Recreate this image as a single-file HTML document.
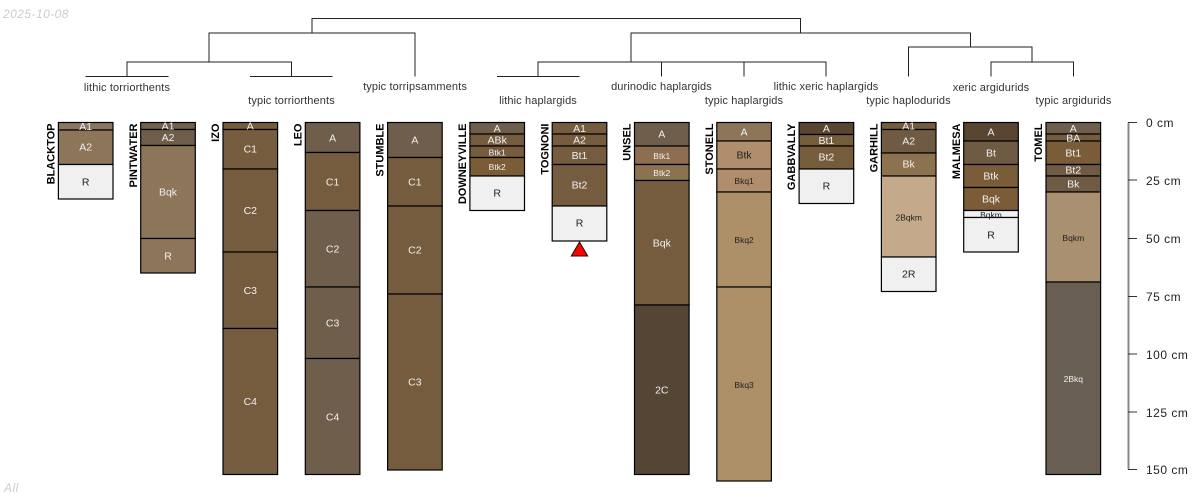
<!DOCTYPE html>
<html><head><meta charset="utf-8"><style>
html,body{margin:0;padding:0;background:#fff}
svg{display:block;font-family:"Liberation Sans",Arial,sans-serif}
.p rect{width:54.6px;stroke:#000;stroke-width:1.2}
.p text{text-anchor:middle;dominant-baseline:central;font-size:10.5px;fill:#f0f0f0;transform:translateY(.5px)}
.p text.s{font-size:8.5px}
.p text.d{fill:#222}
.n{font-weight:bold;font-size:11px;fill:#000;text-anchor:end}
.t{font-size:11px;letter-spacing:.12px;fill:#333;text-anchor:middle}
.a{font-size:12px;letter-spacing:.5px;fill:#222}
.den path{fill:none;stroke:#222;stroke-width:1}
</style></head><body>
<svg width="1200" height="500" viewBox="0 0 1200 500" xmlns="http://www.w3.org/2000/svg">
<text x="3" y="18" font-size="12" letter-spacing=".45" font-style="italic" fill="#ccc">2025-10-08</text>
<text x="4" y="492" font-size="12" letter-spacing=".5" font-style="italic" fill="#ccc">All</text>
<g class="den"><path d="M312 33V18.5H800.5V33M209 62V33H415V76.5M631 62V33H970.5V47M908.5 76.5V47H1032V62M991 76.5V62H1073.5V76.5M127 76.5V62H291.5V76.5M85.5 76.5H168.5M250 76.5H332.5M538 76.5V62H826V76.5M661.5 62V76.5M744 62V76.5M497 76.5H579.5"/></g>
<text class="t" x="127" y="91">lithic torriorthents</text>
<text class="t" x="291.5" y="104">typic torriorthents</text>
<text class="t" x="415" y="90">typic torripsamments</text>
<text class="t" x="538" y="104">lithic haplargids</text>
<text class="t" x="661.5" y="90">durinodic haplargids</text>
<text class="t" x="744" y="104">typic haplargids</text>
<text class="t" x="826" y="90">lithic xeric haplargids</text>
<text class="t" x="908.5" y="104">typic haplodurids</text>
<text class="t" x="991" y="91">xeric argidurids</text>
<text class="t" x="1073.5" y="104">typic argidurids</text>

<text class="n" transform="translate(54.5,123.5) rotate(-90)">BLACKTOP</text>
<text class="n" transform="translate(136.8,123.5) rotate(-90)">PINTWATER</text>
<text class="n" transform="translate(219.1,123.5) rotate(-90)">IZO</text>
<text class="n" transform="translate(301.4,123.5) rotate(-90)">LEO</text>
<text class="n" transform="translate(383.7,123.5) rotate(-90)">STUMBLE</text>
<text class="n" transform="translate(466,123.5) rotate(-90)">DOWNEYVILLE</text>
<text class="n" transform="translate(548.3,123.5) rotate(-90)">TOGNONI</text>
<text class="n" transform="translate(630.6,123.5) rotate(-90)">UNSEL</text>
<text class="n" transform="translate(712.9,123.5) rotate(-90)">STONELL</text>
<text class="n" transform="translate(795.2,123.5) rotate(-90)">GABBVALLY</text>
<text class="n" transform="translate(877.5,123.5) rotate(-90)">GARHILL</text>
<text class="n" transform="translate(959.8,123.5) rotate(-90)">MALMESA</text>
<text class="n" transform="translate(1042.1,123.5) rotate(-90)">TOMEL</text>

<g class="p" transform="translate(58.4,0)">
<rect y="122.5" height="7.5" fill="#8b7660"/><rect y="130" height="34.5" fill="#8d755a"/><rect y="164.5" height="34.5" fill="#f0f0f0"/>
<text x="27.3" y="126.3">A1</text><text x="27.3" y="147.2">A2</text><text class="d" x="27.3" y="182">R</text></g>

<g class="p" transform="translate(140.7,0)">
<rect y="122.5" height="7" fill="#70604d"/><rect y="129.5" height="16" fill="#6e5d4a"/><rect y="145.5" height="93" fill="#8d755a"/><rect y="238.5" height="34.5" fill="#8d755a"/>
<text x="27.3" y="126">A1</text><text x="27.3" y="137.5">A2</text><text x="27.3" y="192">Bqk</text><text x="27.3" y="256">R</text></g>

<g class="p" transform="translate(223,0)">
<rect y="122.5" height="7" fill="#755c3f"/><rect y="129.5" height="39.5" fill="#755c3f"/><rect y="169" height="83" fill="#755c3f"/><rect y="252" height="76.5" fill="#755c3f"/><rect y="328.5" height="146" fill="#755c3f"/>
<text x="27.3" y="126">A</text><text x="27.3" y="149">C1</text><text x="27.3" y="210.5">C2</text><text x="27.3" y="290.5">C3</text><text x="27.3" y="401.5">C4</text></g>

<g class="p" transform="translate(305.3,0)">
<rect y="122.5" height="30" fill="#6f5e4c"/><rect y="152.5" height="58" fill="#755c3f"/><rect y="210.5" height="76.5" fill="#6f5e4c"/><rect y="287" height="71.5" fill="#6f5e4c"/><rect y="358.5" height="116" fill="#6f5e4c"/>
<text x="27.3" y="138">A</text><text x="27.3" y="182">C1</text><text x="27.3" y="249">C2</text><text x="27.3" y="323">C3</text><text x="27.3" y="417">C4</text></g>

<g class="p" transform="translate(387.6,0)">
<rect y="122.5" height="35" fill="#6f5e4c"/><rect y="157.5" height="48.5" fill="#755c3f"/><rect y="206" height="88" fill="#755c3f"/><rect y="294" height="176" fill="#755c3f"/>
<text x="27.3" y="140">A</text><text x="27.3" y="182">C1</text><text x="27.3" y="250">C2</text><text x="27.3" y="382">C3</text></g>

<g class="p" transform="translate(469.9,0)">
<rect y="122.5" height="11.5" fill="#6f5e4c"/><rect y="134" height="12" fill="#755c3f"/><rect y="146" height="11.5" fill="#755c3f"/><rect y="157.5" height="18.5" fill="#7a5c36"/><rect y="176" height="34.5" fill="#f0f0f0"/>
<text x="27.3" y="128.3">A</text><text x="27.3" y="140">ABk</text><text class="s" x="27.3" y="151.8">Btk1</text><text class="s" x="27.3" y="166.5">Btk2</text><text class="d" x="27.3" y="193">R</text></g>

<g class="p" transform="translate(552.2,0)">
<rect y="122.5" height="11.5" fill="#755c3f"/><rect y="134" height="12" fill="#755c3f"/><rect y="146" height="18.5" fill="#755c3f"/><rect y="164.5" height="41.5" fill="#755c3f"/><rect y="206" height="35" fill="#f0f0f0"/>
<text x="27.3" y="128.3">A1</text><text x="27.3" y="140">A2</text><text x="27.3" y="155.3">Bt1</text><text x="27.3" y="185">Bt2</text><text class="d" x="27.3" y="223">R</text></g>
<polygon points="579.5,242 587.7,256 571.3,256" fill="#f00" stroke="#111" stroke-width="1"/>

<g class="p" transform="translate(634.5,0)">
<rect y="122.5" height="23.5" fill="#6f5e4c"/><rect y="146" height="18.5" fill="#8d6e50"/><rect y="164.5" height="16" fill="#8d7250"/><rect y="180.5" height="124.5" fill="#755c3f"/><rect y="305" height="169.5" fill="#544535"/>
<text x="27.3" y="134">A</text><text class="s" x="27.3" y="155.5">Btk1</text><text class="s" x="27.3" y="172.5">Btk2</text><text x="27.3" y="243">Bqk</text><text x="27.3" y="390">2C</text></g>

<g class="p" transform="translate(716.8,0)">
<rect y="122.5" height="18.5" fill="#8d755a"/><rect y="141" height="28" fill="#b08d6c"/><rect y="169" height="23" fill="#b08d6c"/><rect y="192" height="95" fill="#ae9068"/><rect y="287" height="194" fill="#ae9068"/>
<text x="27.3" y="132">A</text><text class="d" x="27.3" y="155">Btk</text><text class="s d" x="27.3" y="180.5">Bkq1</text><text class="s d" x="27.3" y="239.5">Bkq2</text><text class="s d" x="27.3" y="384.5">Bkq3</text></g>

<g class="p" transform="translate(799.1,0)">
<rect y="122.5" height="12" fill="#5a4630"/><rect y="134.5" height="11.5" fill="#755c3b"/><rect y="146" height="23" fill="#755c3b"/><rect y="169" height="34.5" fill="#f0f0f0"/>
<text x="27.3" y="128.3">A</text><text x="27.3" y="140.3">Bt1</text><text x="27.3" y="157">Bt2</text><text class="d" x="27.3" y="186">R</text></g>

<g class="p" transform="translate(881.4,0)">
<rect y="122.5" height="7" fill="#755c3f"/><rect y="129.5" height="23.5" fill="#6f5a44"/><rect y="153" height="23" fill="#8d7250"/><rect y="176" height="81" fill="#c4aa8a"/><rect y="257" height="34.5" fill="#f0f0f0"/>
<text x="27.3" y="126">A1</text><text x="27.3" y="141">A2</text><text x="27.3" y="164">Bk</text><text class="s d" x="27.3" y="217">2Bqkm</text><text class="d" x="27.3" y="274">2R</text></g>

<g class="p" transform="translate(963.7,0)">
<rect y="122.5" height="18.5" fill="#5a4630"/><rect y="141" height="23.5" fill="#6f5a44"/><rect y="164.5" height="23" fill="#7a5c38"/><rect y="187.5" height="23" fill="#7a5c38"/><rect y="210.5" height="7" fill="#f0f0f0"/><rect y="217.5" height="34.5" fill="#f0f0f0"/>
<text x="27.3" y="132">A</text><text x="27.3" y="153">Bt</text><text x="27.3" y="176">Btk</text><text x="27.3" y="199">Bqk</text><text class="s d" x="27.3" y="214.5">Bqkm</text><text class="d" x="27.3" y="235">R</text></g>

<g class="p" transform="translate(1046,0)">
<rect y="122.5" height="11.5" fill="#6f5e4c"/><rect y="134" height="7" fill="#755c3f"/><rect y="141" height="23.5" fill="#7a5c38"/><rect y="164.5" height="11.5" fill="#6f5a44"/><rect y="176" height="16" fill="#6f5a44"/><rect y="192" height="90" fill="#a89070"/><rect y="282" height="192.5" fill="#685f52"/>
<text x="27.3" y="128.3">A</text><text x="27.3" y="138">BA</text><text x="27.3" y="153">Bt1</text><text x="27.3" y="170">Bt2</text><text x="27.3" y="184">Bk</text><text class="s d" x="27.3" y="237.5">Bqkm</text><text class="s" x="27.3" y="378.5">2Bkq</text></g>

<path d="M1128.5 122.5V469.5" stroke="#888" stroke-width="2" fill="none"/>
<path d="M1128 122.5H1137M1128 180H1137M1128 238.5H1137M1128 296.5H1137M1128 354H1137M1128 412H1137M1128 469.5H1137" stroke="#333" stroke-width="1" fill="none"/>
<text class="a" x="1146" y="127">0 cm</text>
<text class="a" x="1146" y="185">25 cm</text>
<text class="a" x="1146" y="243">50 cm</text>
<text class="a" x="1146" y="301">75 cm</text>
<text class="a" x="1146" y="359">100 cm</text>
<text class="a" x="1146" y="417">125 cm</text>
<text class="a" x="1146" y="474">150 cm</text>
</svg>
</body></html>
